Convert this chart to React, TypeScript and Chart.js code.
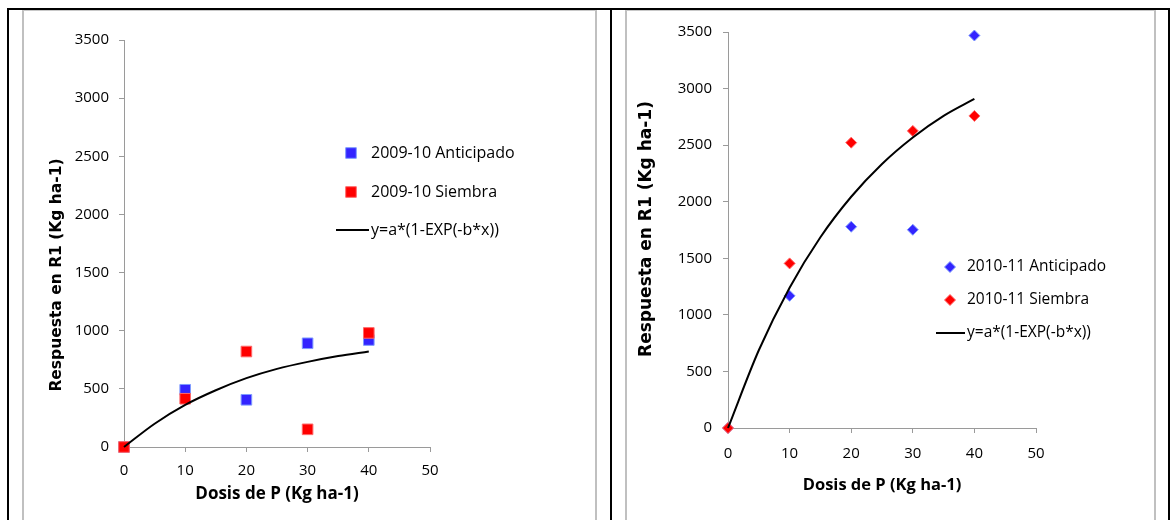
import React, { useEffect, useRef } from 'react';
import { Chart, registerables } from 'chart.js';

Chart.register(...registerables);

// ---------------- data ----------------
const doseLevels = [0, 10, 20, 30, 40];
const fitDoseLevels = [0, 5, 10, 15, 20, 25, 30, 35, 40];

const anticipado0910 = [0, 492, 406, 892, 920];
const siembra0910 = [0, 415, 821, 152, 981];
const fitCurve0910 = [0, 200, 362, 488, 592, 672, 732, 782, 822];

const anticipado1011 = [0, 1168, 1779, 1752, 3469];
const siembra1011 = [0, 1455, 2522, 2626, 2758];
const fitCurve1011 = [0, 687, 1240, 1686, 2044, 2334, 2568, 2759, 2909];

const xTickValues = [0, 10, 20, 30, 40, 50];
const yTickValues = [0, 500, 1000, 1500, 2000, 2500, 3000, 3500];

const labels0910 = ['2009-10 Anticipado', '2009-10 Siembra', 'y=a*(1-EXP(-b*x))'];
const labels1011 = ['2010-11 Anticipado', '2010-11 Siembra', 'y=a*(1-EXP(-b*x))'];

const xAxisTitle = 'Dosis de P (Kg ha-1)';
const yAxisTitle = 'Respuesta en R1 (Kg ha-1)';

// ---------------- styles ----------------
const BLUE = '#3324ff';
const BLUE_EDGE = '#7f9cff';
const RED = '#ff0000';
const RED_EDGE = '#ff6a6a';
const AXIS_GRAY = '#9a9a9a';
const TICK_FONT = 'Open Sans';

const toXY = (xs: number[], ys: number[]) => xs.map((x, i) => ({ x, y: ys[i] }));

function drawMarker(ctx: CanvasRenderingContext2D, style: string, cx: number, cy: number, r: number, fill: string, stroke: string, bw: number) {
  ctx.beginPath();
  if (style === 'rectRot') {
    ctx.moveTo(cx, cy - r);
    ctx.lineTo(cx + r, cy);
    ctx.lineTo(cx, cy + r);
    ctx.lineTo(cx - r, cy);
    ctx.closePath();
  } else {
    const h = r * Math.SQRT1_2;
    ctx.rect(cx - h, cy - h, 2 * h, 2 * h);
  }
  ctx.fillStyle = fill;
  ctx.fill();
  ctx.lineWidth = bw;
  ctx.strokeStyle = stroke;
  ctx.stroke();
}

function makeOverlay(s: any) {
  return {
    id: 'overlay',
    afterDraw(chart: any) {
      const ctx: CanvasRenderingContext2D = chart.ctx;
      ctx.save();
      ctx.fillStyle = '#000';
      ctx.font = s.yTitleFont;
      ctx.textAlign = 'center';
      ctx.textBaseline = 'middle';
      ctx.translate(s.yTitleX, s.yTitleY);
      ctx.rotate(-Math.PI / 2);
      ctx.fillText(yAxisTitle, 0, 0);
      ctx.restore();

      ctx.save();
      chart.data.datasets.forEach((ds: any, i: number) => {
        const y = s.legendY[i];
        if (ds.showLine) {
          ctx.strokeStyle = ds.borderColor;
          ctx.lineWidth = ds.borderWidth;
          ctx.beginPath();
          ctx.moveTo(s.lineX0, y);
          ctx.lineTo(s.lineX1, y);
          ctx.stroke();
        } else {
          drawMarker(ctx, ds.pointStyle, s.markerX, y, ds.pointRadius, ds.backgroundColor, ds.borderColor, ds.pointBorderWidth);
        }
        ctx.fillStyle = '#000';
        ctx.font = s.legendFont;
        ctx.textAlign = 'left';
        ctx.textBaseline = 'middle';
        ctx.fillText(ds.label, s.textX, y);
      });
      ctx.restore();
    },
  };
}

function buildConfig(p: any): any {
  return {
    type: 'scatter',
    data: {
      datasets: [
        {
          label: p.labels[0],
          data: toXY(doseLevels, p.anticipado),
          pointStyle: p.pointStyle,
          pointRadius: p.pointRadius,
          pointBorderWidth: 1,
          backgroundColor: BLUE,
          borderColor: BLUE_EDGE,
          order: 2,
          clip: false,
        },
        {
          label: p.labels[1],
          data: toXY(doseLevels, p.siembra),
          pointStyle: p.pointStyle,
          pointRadius: p.pointRadius,
          pointBorderWidth: 1,
          backgroundColor: RED,
          borderColor: RED_EDGE,
          order: 1,
          clip: false,
        },
        {
          label: p.labels[2],
          data: toXY(fitDoseLevels, p.fit),
          showLine: true,
          pointRadius: 0,
          borderColor: '#000',
          backgroundColor: '#000',
          borderWidth: 2,
          cubicInterpolationMode: 'monotone',
          order: 0,
          clip: false,
        },
      ],
    },
    options: {
      responsive: false,
      animation: false,
      events: [],
      layout: { padding: p.padding },
      plugins: { legend: { display: false }, tooltip: { enabled: false }, title: { display: false } },
      scales: {
        x: {
          type: 'linear',
          min: xTickValues[0],
          max: xTickValues[xTickValues.length - 1],
          afterBuildTicks: (axis: any) => { axis.ticks = xTickValues.map((v) => ({ value: v })); },
          afterFit: (axis: any) => { axis.height = p.xHeight; },
          ticks: {
            color: '#000',
            font: { family: TICK_FONT, size: 15 },
            padding: p.xTickPad,
            maxRotation: 0,
            callback: (v: any) => String(v),
          },
          grid: { drawOnChartArea: false, drawTicks: true, tickLength: 5, color: AXIS_GRAY, lineWidth: 1 },
          border: { color: AXIS_GRAY, width: 1 },
          title: {
            display: true,
            text: xAxisTitle,
            color: '#000',
            font: { family: TICK_FONT, weight: 'bold', size: p.xTitleSize },
            padding: 0,
          },
        },
        y: {
          type: 'linear',
          min: yTickValues[0],
          max: yTickValues[yTickValues.length - 1],
          afterBuildTicks: (axis: any) => { axis.ticks = yTickValues.map((v) => ({ value: v })); },
          afterFit: (axis: any) => { axis.width = p.yWidth; },
          ticks: {
            color: '#000',
            font: { family: TICK_FONT, size: 15 },
            padding: p.yTickPad,
            callback: (v: any) => String(v),
          },
          grid: { drawOnChartArea: false, drawTicks: true, tickLength: 5, color: AXIS_GRAY, lineWidth: 1 },
          border: { color: AXIS_GRAY, width: 1 },
        },
      },
    },
    plugins: [makeOverlay(p.overlay)],
  };
}

function ChartPanel({ left, top, width, height, params }: any) {
  const ref = useRef<HTMLCanvasElement | null>(null);
  useEffect(() => {
    if (!ref.current) return;
    const chart = new Chart(ref.current, buildConfig(params));
    return () => chart.destroy();
  }, []);
  return (
    <canvas
      ref={ref}
      width={width}
      height={height}
      style={{ position: 'absolute', left, top, width, height, display: 'block' }}
    />
  );
}

const leftParams = {
  labels: labels0910,
  anticipado: anticipado0910,
  siembra: siembra0910,
  fit: fitCurve0910,
  pointStyle: 'rect',
  pointRadius: 7.5,
  padding: { left: 0, top: 29, right: 165, bottom: 16 },
  yWidth: 100,
  xHeight: 57,
  xTickPad: 10,
  yTickPad: 10,
  xTitleSize: 17,
  overlay: {
    yTitleFont: 'bold 15.5px "DejaVu Sans"',
    yTitleX: 33,
    yTitleY: 264,
    legendFont: '16px "Open Sans"',
    markerX: 327,
    legendY: [142, 181, 219],
    lineX0: 312,
    lineX1: 345,
    textX: 347,
  },
};

const rightParams = {
  labels: labels1011,
  anticipado: anticipado1011,
  siembra: siembra1011,
  fit: fitCurve1011,
  pointStyle: 'rectRot',
  pointRadius: 5.5,
  padding: { left: 0, top: 21, right: 118, bottom: 25 },
  yWidth: 101,
  xHeight: 67,
  xTickPad: 12,
  yTickPad: 11,
  xTitleSize: 16.5,
  overlay: {
    yTitleFont: 'bold 17px "DejaVu Sans"',
    yTitleX: 20,
    yTitleY: 218,
    legendFont: '15.5px "Open Sans"',
    markerX: 323,
    legendY: [256, 289, 322],
    lineX0: 309,
    lineX1: 338,
    textX: 340,
  },
};

const line = (left: number, top: number, width: number, height: number, color: string) => (
  <div style={{ position: 'absolute', left, top, width, height, background: color }} />
);

export default function App() {
  return (
    <div style={{ position: 'absolute', left: 0, top: 0, width: 1170, height: 520, overflow: 'hidden', background: '#fff' }}>
      {/* gray chart frames */}
      <div style={{ position: 'absolute', left: 22, top: 10, width: 571, height: 530, borderLeft: '2px solid #c0c0c0', borderRight: '2px solid #c0c0c0', borderTop: '1px solid #c8c8c8' }} />
      <div style={{ position: 'absolute', left: 625, top: 10, width: 527, height: 530, borderLeft: '2px solid #c0c0c0', borderRight: '2px solid #c0c0c0', borderTop: '1px solid #c8c8c8' }} />
      <ChartPanel left={24} top={11} width={571} height={509} params={leftParams} />
      <ChartPanel left={627} top={11} width={527} height={509} params={rightParams} />
      {/* black table rules */}
      {line(7, 8, 1163, 2, '#000')}
      {line(7, 8, 2, 512, '#000')}
      {line(610, 8, 2, 512, '#000')}
      {line(1168, 8, 2, 512, '#000')}
    </div>
  );
}
